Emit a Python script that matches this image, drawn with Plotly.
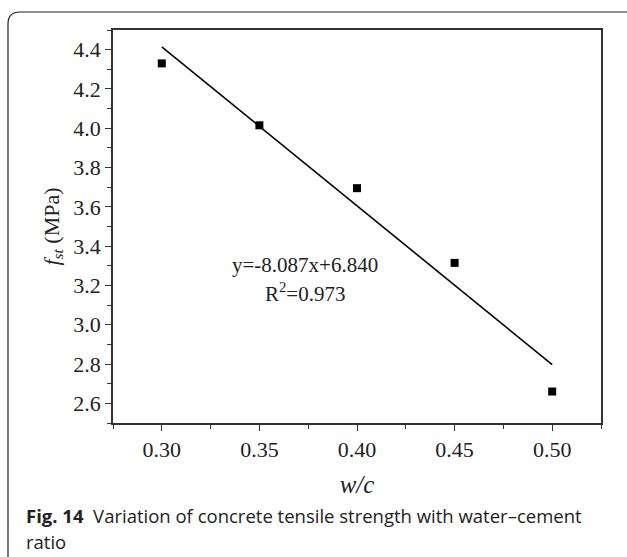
import plotly.graph_objects as go

wc = [0.30, 0.35, 0.40, 0.45, 0.50]
fst = [4.33, 4.015, 3.695, 3.315, 2.66]
fit_x = [0.30, 0.50]
fit_y = [4.414, 2.797]
x_ticks = [0.30, 0.35, 0.40, 0.45, 0.50]
x_labels = ["0.30", "0.35", "0.40", "0.45", "0.50"]
y_ticks = [2.6, 2.8, 3.0, 3.2, 3.4, 3.6, 3.8, 4.0, 4.2, 4.4]
y_labels = ["2.6", "2.8", "3.0", "3.2", "3.4", "3.6", "3.8", "4.0", "4.2", "4.4"]

W, H = 627, 557
L, R, T, B = 113, 601, 30, 423
def px(x): return (x - L) / (R - L)
def py(y): return (B - y) / (B - T)

serif = "Liberation Serif"
fig = go.Figure()
fig.add_trace(go.Scatter(x=fit_x, y=fit_y, mode="lines",
                         line=dict(color="black", width=1.6), showlegend=False))
fig.add_trace(go.Scatter(x=wc, y=fst, mode="markers",
                         marker=dict(symbol="square", size=8, color="black"), showlegend=False))

tick_font = dict(family=serif, size=22, color="#222")
axis_common = dict(showgrid=False, zeroline=False, showline=True, linecolor="#333",
                   linewidth=1.5, mirror=True, ticks="outside", ticklen=6, tickwidth=1.2,
                   tickcolor="#333")
fig.update_xaxes(range=[0.275, 0.525], tickmode="array", tickvals=x_ticks, ticktext=x_labels,
                 tickfont=tick_font,
                 minor=dict(ticks="outside", dtick=0.025, tick0=0.275, ticklen=4, tickcolor="#333"),
                 title=dict(text="<i>w/c</i>", font=dict(family=serif, size=25, color="#222"), standoff=14),
                 **axis_common)
fig.update_yaxes(range=[2.5, 4.5], tickmode="array", tickvals=y_ticks, ticktext=y_labels,
                 tickfont=tick_font,
                 minor=dict(ticks="outside", dtick=0.1, tick0=2.5, ticklen=4, tickcolor="#333"),
                 title=dict(text="<i>f<sub>st</sub></i> (MPa)", font=dict(family=serif, size=22, color="#222"), standoff=8),
                 **axis_common)

x0, x1, x2, x3 = px(8), px(20), px(628), px(640)
y0, y1, ybot = py(12), py(24), py(570)
path = (f"M {x0} {ybot} L {x0} {y1} Q {x0} {y0} {x1} {y0} "
        f"L {x2} {y0} Q {x3} {y0} {x3} {y1} L {x3} {ybot}")
shapes = [dict(type="path", xref="paper", yref="paper", path=path,
               line=dict(color="#222", width=1.2))]

annotations = [
    dict(x=px(305), y=py(265), xref="paper", yref="paper", xanchor="center", yanchor="middle",
         text="y=-8.087x+6.840", showarrow=False, font=dict(family=serif, size=21, color="#222")),
    dict(x=px(305), y=py(292), xref="paper", yref="paper", xanchor="center", yanchor="middle",
         text="R<sup>2</sup>=0.973", showarrow=False, font=dict(family=serif, size=21, color="#222")),
    dict(x=px(24), y=py(515), xref="paper", yref="paper", xanchor="left", yanchor="middle",
         text="<b>Fig. 14</b>  Variation of concrete tensile strength with water–cement",
         showarrow=False, font=dict(family="Open Sans", size=18.5, color="#222")),
    dict(x=px(24), y=py(541), xref="paper", yref="paper", xanchor="left", yanchor="middle",
         text="ratio", showarrow=False, font=dict(family="Open Sans", size=18.5, color="#222")),
]

fig.update_layout(width=W, height=H, margin=dict(l=L, r=W - R, t=T, b=H - B),
                  paper_bgcolor="white", plot_bgcolor="white",
                  font=dict(family=serif, color="#222"),
                  shapes=shapes, annotations=annotations)
fig.write_html("out.html")
